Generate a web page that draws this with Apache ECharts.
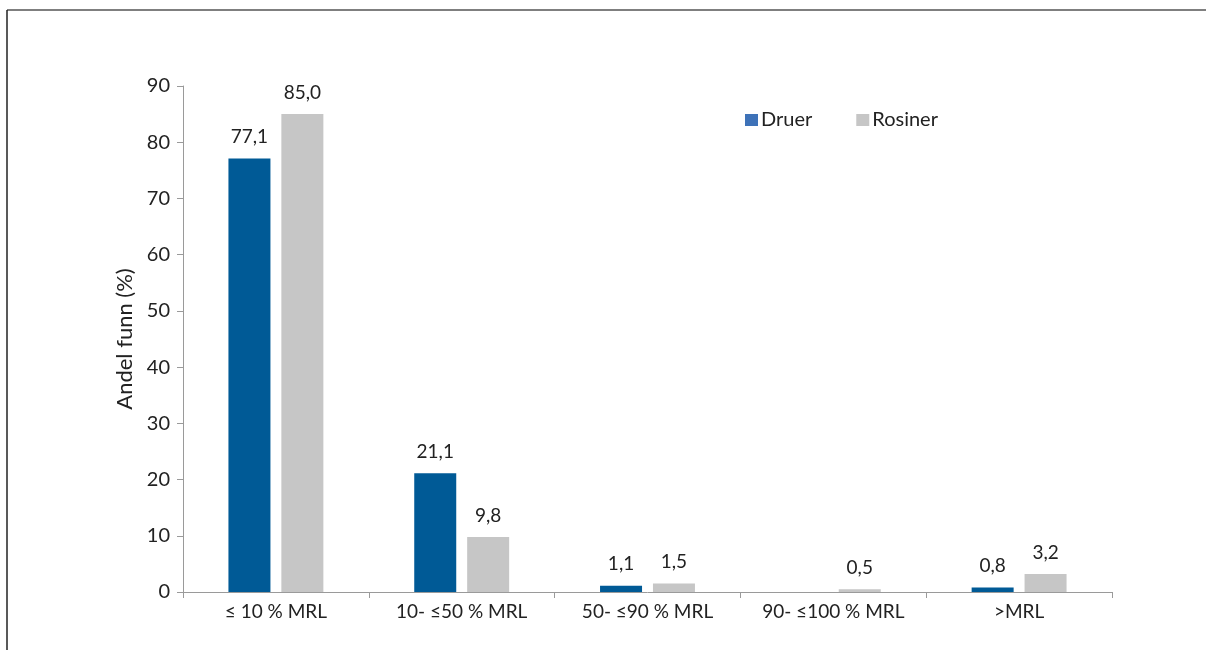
<!DOCTYPE html>
<html>
<head>
<meta charset="utf-8">
<script src="https://cdn.jsdelivr.net/npm/echarts@6/dist/echarts.min.js"></script>
<style>
  html, body { margin: 0; padding: 0; background: #fff; }
  #chart { width: 1206px; height: 650px; }
</style>
</head>
<body>
<div id="chart"></div>
<script>
// Share of findings by residue level relative to MRL
const categories = ['≤ 10 % MRL', '10- ≤50 % MRL', '50- ≤90 % MRL', '90- ≤100 % MRL', '>MRL'];
const druer = [77.1, 21.1, 1.1, null, 0.8];
const rosiner = [85.0, 9.8, 1.5, 0.5, 3.2];
const yTicks = { min: 0, max: 90, interval: 10 };

const FONT = 'Lato, "Open Sans", sans-serif';
const fmt = p => p.value == null ? '' : p.value.toFixed(1).replace('.', ',');

const chart = echarts.init(document.getElementById('chart'), null, { renderer: 'canvas' });
chart.setOption({
  animation: false,
  textStyle: { fontFamily: FONT },
  graphic: [
    { type: 'line', shape: { x1: 7, y1: 10, x2: 1206, y2: 10 }, style: { stroke: '#555', lineWidth: 1.5 } },
    { type: 'line', shape: { x1: 7, y1: 10, x2: 7, y2: 650 }, style: { stroke: '#222', lineWidth: 1.5 } }
  ],
  legend: {
    left: 740, top: 105,
    itemWidth: 13, itemHeight: 12, itemGap: 44,
    icon: 'rect',
    textStyle: { fontSize: 20, color: '#222', fontFamily: FONT, padding: [0, 0, 0, -2] },
    data: [
      { name: 'Druer', itemStyle: { color: '#3e72b8' } },
      { name: 'Rosiner', itemStyle: { color: '#c6c6c6' } }
    ]
  },
  grid: { left: 183, right: 94, top: 86, bottom: 58, containLabel: false },
  xAxis: {
    type: 'category',
    data: categories,
    axisLine: { lineStyle: { color: '#9a9a9a', width: 1 } },
    axisTick: { show: true, length: 6, lineStyle: { color: '#9a9a9a' } },
    axisLabel: { fontSize: 19, color: '#222', margin: 10, fontFamily: FONT }
  },
  yAxis: {
    type: 'value',
    min: yTicks.min, max: yTicks.max, interval: yTicks.interval,
    name: 'Andel funn (%)',
    nameLocation: 'middle',
    nameGap: 42,
    nameTextStyle: { fontSize: 22, color: '#222', fontFamily: FONT },
    axisLine: { show: true, lineStyle: { color: '#9a9a9a', width: 1 } },
    axisTick: { show: true, length: 6, lineStyle: { color: '#9a9a9a' } },
    axisLabel: { fontSize: 20, color: '#222', margin: 13, fontFamily: FONT },
    splitLine: { show: false }
  },
  series: [
    {
      name: 'Druer', type: 'bar', data: druer,
      barWidth: 42, barGap: '26%',
      itemStyle: { color: '#005a96' },
      label: { show: true, position: 'top', distance: 12, fontSize: 19, color: '#222', fontFamily: FONT, formatter: fmt }
    },
    {
      name: 'Rosiner', type: 'bar', data: rosiner,
      barWidth: 42,
      itemStyle: { color: '#c6c6c6' },
      label: { show: true, position: 'top', distance: 12, fontSize: 19, color: '#222', fontFamily: FONT, formatter: fmt }
    }
  ]
});
</script>
</body>
</html>
